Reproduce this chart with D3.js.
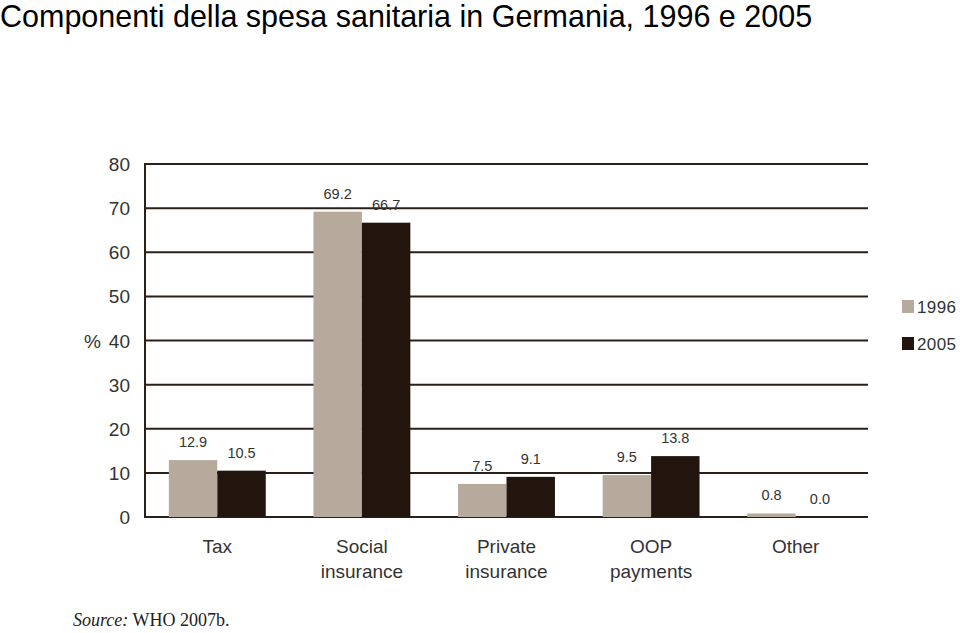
<!DOCTYPE html>
<html><head><meta charset="utf-8">
<script src="https://cdn.jsdelivr.net/npm/d3@7"></script>
<style>body{margin:0;background:#fff}svg{display:block}</style>
</head><body>
<svg id="c" width="960" height="633"></svg>
<script>
const categories = [["Tax"],["Social","insurance"],["Private","insurance"],["OOP","payments"],["Other"]];
const seriesNames = ["1996","2005"];
const values1996 = [12.9, 69.2, 7.5, 9.5, 0.8];
const values2005 = [10.5, 66.7, 9.1, 13.8, 0.0];
const yTicks = [0,10,20,30,40,50,60,70,80];
const colors = ["#b5aa9c","#22150e"];

(function(){
const FF = "'Liberation Sans', Arial, Helvetica, sans-serif";
const svg = d3.select("#c");
const pL=145, pR=868, pT=164, pB=517;
const x = d3.scaleBand().domain(d3.range(categories.length)).range([pL,pR]).paddingInner(0.33).paddingOuter(0.165);
const xs = d3.scaleBand().domain(seriesNames).range([0,x.bandwidth()]);
const y = d3.scaleLinear().domain([0,80]).range([pB,pT]);

svg.append("text").attr("x",0).attr("y",27).attr("font-family",FF)
  .attr("font-size",30.5).attr("fill","#000").text("Componenti della spesa sanitaria in Germania, 1996 e 2005");

svg.append("g").selectAll("line").data(yTicks).join("line")
  .attr("x1",pL).attr("x2",pR).attr("y1",d=>y(d)).attr("y2",d=>y(d))
  .attr("stroke","#2a2018").attr("stroke-width",2);
svg.append("line").attr("x1",pL).attr("x2",pL).attr("y1",pT-1).attr("y2",pB+1)
  .attr("stroke","#2a2018").attr("stroke-width",2);

svg.append("g").selectAll("text").data(yTicks).join("text")
  .attr("x",130).attr("y",d=>y(d)+7).attr("text-anchor","end")
  .attr("font-family",FF).attr("font-size",19).attr("fill","#333")
  .text(d=>d);
svg.append("text").attr("x",84).attr("y",y(40)+7).attr("font-family",FF)
  .attr("font-size",19).attr("fill","#333").text("%");

const series = [values1996, values2005];
series.forEach((vals,si)=>{
  const g = svg.append("g");
  g.selectAll("rect").data(vals).join("rect")
    .attr("x",(d,i)=>x(i)+xs(seriesNames[si]))
    .attr("width",xs.bandwidth())
    .attr("y",d=>y(d)).attr("height",d=>y(0)-y(d))
    .attr("fill",colors[si]);
  g.selectAll("text").data(vals).join("text")
    .attr("x",(d,i)=>x(i)+xs(seriesNames[si])+xs.bandwidth()/2)
    .attr("y",d=>y(d)-13).attr("text-anchor","middle")
    .attr("font-family",FF).attr("font-size",14.5).attr("fill","#333")
    .text(d=>d.toFixed(1));
});

categories.forEach((lines,i)=>{
  const t = svg.append("text").attr("text-anchor","middle")
    .attr("font-family",FF).attr("font-size",19).attr("fill","#333");
  lines.forEach((l,j)=>t.append("tspan").attr("x",x(i)+x.bandwidth()/2).attr("y",553+j*25).text(l));
});

seriesNames.forEach((s,i)=>{
  svg.append("rect").attr("x",902).attr("y",300+i*37).attr("width",12).attr("height",13).attr("fill",colors[i]);
  svg.append("text").attr("x",917).attr("y",313+i*37).attr("font-family",FF)
    .attr("font-size",17).attr("fill","#333").attr("textLength",39).text(s);
});

const src = svg.append("text").attr("x",73).attr("y",626).attr("font-family","'Liberation Serif', 'Times New Roman', serif")
  .attr("font-size",18).attr("fill","#222");
src.append("tspan").attr("font-style","italic").text("Source:");
src.append("tspan").text(" WHO 2007b.");
})();
</script>
</body></html>
